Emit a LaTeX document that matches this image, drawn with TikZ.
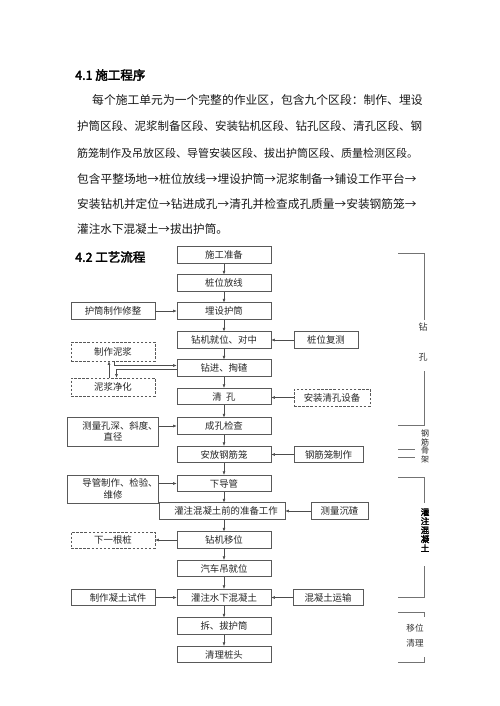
\documentclass[tikz,border=0pt]{standalone}
\usepackage{fontspec}
\setmainfont{Noto Sans CJK SC}[AutoFakeBold=2.5]
\usetikzlibrary{arrows.meta,calc}
\tikzset{
  box/.style={draw=black!65, line width=0.6pt, minimum height=16.5pt, inner sep=1pt,
    font=\fontsize{9.4}{11.5}\selectfont, text=black!85, fill=white},
  mainbox/.style={box, minimum width=94pt},
  sidebox/.style={box, minimum width=84pt},
  dbox/.style={dash pattern=on 2.5pt off 1.6pt},
  arr/.style={draw=black!70, line width=0.5pt, -{Latex[length=3.5pt,width=2.8pt]}},
  brk/.style={draw=black!55, line width=0.6pt},
  bodyline/.style={anchor=west, inner sep=0pt, text=black!90},
  headline/.style={anchor=west, inner sep=0pt, font=\bfseries\fontsize{12.5}{14}\selectfont},
  side/.style={inner sep=0pt, text=black!80, align=center}
}
\begin{document}
\begin{tikzpicture}[x=1pt,y=-1pt]
\useasboundingbox[fill=white] (0,0) rectangle (500,706);

% ---- text part ----
\node[headline] (h1) at (75,75) {4.1 施工程序};
\node[bodyline, font=\fontsize{11.8}{14}\selectfont] (l1) at (92,100) {每个施工单元为一个完整的作业区，包含九个区段：制作、埋设};
\node[bodyline, font=\fontsize{11.5}{14}\selectfont] (l2) at (77,126) {护筒区段、泥浆制备区段、安装钻机区段、钻孔区段、清孔区段、钢};
\node[bodyline, font=\fontsize{11.0}{14}\selectfont] (l3) at (77,153) {筋笼制作及吊放区段、导管安装区段、拔出护筒区段、质量检测区段。};
\node[bodyline, font=\fontsize{11.7}{14}\selectfont] (l4) at (77,179) {包含平整场地→桩位放线→埋设护筒→泥浆制备→铺设工作平台→};
\node[bodyline, font=\fontsize{11.7}{14}\selectfont] (l5) at (77,204) {安装钻机并定位→钻进成孔→清孔并检查成孔质量→安装钢筋笼→};
\node[bodyline, font=\fontsize{11.6}{14}\selectfont] (l6) at (77,229) {灌注水下混凝土→拔出护筒。};
\node[headline] (h2) at (75,257) {4.2 工艺流程};

% ---- main column ----
\node[mainbox] (sg) at (224,255) {施工准备};
\node[mainbox] (zw) at (224,283) {桩位放线};
\node[mainbox] (mh) at (224,311) {埋设护筒};
\node[mainbox] (zj) at (224,340) {钻机就位、对中};
\node[mainbox] (zt) at (224,368) {钻进、掏碴};
\node[mainbox] (qk) at (224,396.5) {清\ \ 孔};
\node[mainbox] (ck) at (224,426) {成孔检查};
\node[mainbox] (af) at (224,454.5) {安放钢筋笼};
\node[mainbox] (xd) at (224,483.5) {下导管};
\node[box, minimum width=126pt] (gq) at (222,511) {\hspace*{8pt}灌注混凝土前的准备工作};
\node[mainbox] (yw) at (224,540) {钻机移位};
\node[mainbox] (qc) at (224,568.5) {汽车吊就位};
\node[mainbox] (gz) at (224,597.5) {灌注水下混凝土};
\node[mainbox] (cb) at (224,626) {拆、拔护筒};
\node[mainbox] (ql) at (224,654.5) {清理桩头};

% ---- left column ----
\node[sidebox] (hz) at (113,311) {护筒制作修整};
\node[sidebox, dbox, minimum height=19pt] (zn) at (113,351.5) {制作泥浆};
\node[sidebox, dbox, minimum height=18pt] (nj) at (113,387) {泥浆净化};
\node[sidebox, minimum height=29pt, align=center] (cl) at (113,431.5) {\hspace*{14pt}测量孔深、斜度、\\直径};
\node[sidebox, minimum height=28pt, align=center] (dg) at (113,489) {\hspace*{14pt}导管制作、检验、\\维修};
\node[sidebox, dbox, minimum height=16pt] (xy) at (113,540) {下一根桩};
\node[sidebox] (zs) at (113,597.5) {\hspace*{10pt}制作凝土试件};

% ---- right column ----
\node[box, minimum width=64pt] (fc) at (326,340) {桩位复测};
\node[box, dbox, minimum width=76pt, minimum height=17pt] (az) at (332,397.5) {安装清孔设备};
\node[box, minimum width=69pt] (gj) at (328.5,454.5) {钢筋笼制作};
\node[box, minimum width=57pt] (cc) at (339.5,511) {测量沉碴};
\node[box, minimum width=70pt] (hy) at (328,597.5) {混凝土运输};

% ---- main arrows ----
\foreach \a/\b in {sg/zw, zw/mh, mh/zj, zj/zt, zt/qk, qk/ck, ck/af, af/xd, yw/qc, qc/gz, gz/cb, cb/ql}
  \draw[arr] (\a.south) -- (\a.south |- \b.north);
\draw[arr] (xd.south) -- (xd.south |- gq.north);
\draw[arr] (yw.north |- gq.south) -- (yw.north);

% ---- side arrows ----
\draw[arr] (hz) -- (mh);
\draw[arr] (fc) -- (zj);
\draw[arr] (az.west) -- (az.west -| qk.east);
\draw[arr] (cl.east |- ck.west) -- (ck.west);
\draw[arr] (gj) -- (af);
\draw[arr] (dg.east |- xd.west) -- (xd.west);
\draw[arr] (cc) -- (gq);
\draw[arr] (yw) -- (xy);
\draw[arr] (zs) -- (gz);
\draw[arr] (hy) -- (gz);

% ---- mud loop ----
\draw[arr] ($(zn.south)+(1,0)$) |- ($(zt.west)+(0,-2.5)$);
\draw[arr] ($(zt.west)+(0,1)$) -| ($(nj.north)+(3.5,0)$);
\draw[arr] ($(nj.north)+(-4,0)$) -- ($(zn.south)+(-4,0)$);

% ---- right brackets ----
\draw[brk] (398,253) -- (424,253) -- (424,320);
\node[side, font=\fontsize{9}{10}\selectfont] (bz) at (423,327) {钻};
\node[side, font=\fontsize{9}{10}\selectfont] (bk) at (423,357) {孔};
\draw[brk] (424,371) -- (424,425) -- (398,425);
\node[side, text=black!85, font=\fontsize{8}{8.4}\selectfont] (bg) at (425,446.5) {钢\\筋\\骨\\架};
\draw[brk] (398,449) -- (415,449);
\draw[brk] (398,457) -- (415,457);
\draw[brk] (398,477) -- (424,477) -- (424,503);
\node[side, text=black, font=\bfseries\fontsize{8.6}{9}\selectfont] (bh) at (425,530) {灌\\注\\混\\凝\\土};
\draw[brk] (424,566) -- (424,597) -- (398,597);
\draw[brk] (398,612) -- (424,612) -- (424,617);
\node[side, font=\fontsize{8.6}{15}\selectfont] (by) at (415,635.5) {移位\\清理};
\draw[brk] (398,662) -- (424,662) -- (424,657);
\end{tikzpicture}
\end{document}
